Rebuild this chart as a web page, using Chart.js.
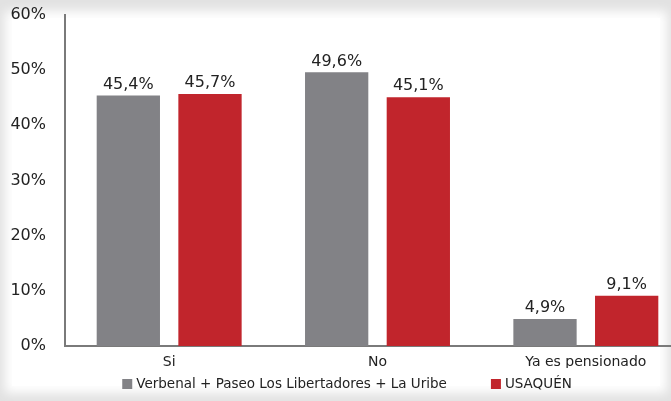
<!DOCTYPE html>
<html lang="es">
<head>
    <meta charset="UTF-8">
    <title>Pensión</title>
    <style>
        html, body {
            margin: 0;
            padding: 0;
            width: 671px;
            height: 401px;
            overflow: hidden;
            background: #e2e2e2;
            font-family: "DejaVu Sans", sans-serif;
        }
        .panel {
            position: absolute;
            left: 12px;
            top: 18px;
            width: 648px;
            height: 368px;
            background: #fff;
            box-shadow: 0 0 10px 7px #fff;
        }
        .wrap {
            position: absolute;
            left: 0;
            top: 0;
            width: 690px;
            height: 401px;
        }
    </style>
    <script src="https://cdn.jsdelivr.net/npm/chart.js"></script>
</head>
<body>
    <div class="panel"></div>
    <div class="wrap"><canvas id="pensionChart" width="690" height="401"></canvas></div>

    <script>
        // Data
        const categories = ['Si', 'No', 'Ya es pensionado'];
        const seriesNames = ['Verbenal + Paseo Los Libertadores + La Uribe', 'USAQUÉN'];
        const verbenalValues = [45.4, 49.6, 4.9];
        const usaquenValues = [45.7, 45.1, 9.1];
        const yTicks = [0, 10, 20, 30, 40, 50, 60];

        const GRAY = '#828286';
        const RED = '#c1252c';
        const FONT = '"DejaVu Sans"';

        // draws "45,4%" style labels above each bar
        const valueLabels = {
            id: 'valueLabels',
            afterDatasetsDraw(chart) {
                const ctx = chart.ctx;
                ctx.save();
                ctx.font = '16px ' + FONT;
                ctx.fillStyle = '#222';
                ctx.textAlign = 'center';
                ctx.textBaseline = 'bottom';
                chart.data.datasets.forEach((ds, i) => {
                    chart.getDatasetMeta(i).data.forEach((bar, j) => {
                        const txt = ds.data[j].toFixed(1).replace('.', ',') + '%';
                        ctx.fillText(txt, bar.x, bar.y - 3);
                    });
                });
                ctx.restore();
            }
        };

        // legend row under the axis labels (Chart.js legend padding is also vertical)
        const bottomLegend = {
            id: 'bottomLegend',
            afterDraw(chart) {
                const ctx = chart.ctx;
                const box = 10, gapText = 4, gapItem = 44;
                ctx.save();
                ctx.font = '13.5px ' + FONT;
                ctx.textBaseline = 'middle';
                const items = chart.data.datasets.map(ds => ({
                    text: ds.label, color: ds.backgroundColor, w: ctx.measureText(ds.label).width
                }));
                let total = items.reduce((a, it) => a + box + gapText + it.w, 0) + gapItem * (items.length - 1);
                let x = 347 - total / 2;
                const y = 384;
                items.forEach(it => {
                    ctx.fillStyle = it.color;
                    ctx.fillRect(x, y - box / 2, box, box);
                    x += box + gapText;
                    ctx.fillStyle = '#222';
                    ctx.fillText(it.text, x, y);
                    x += it.w + gapItem;
                });
                ctx.restore();
            }
        };

        const ctx = document.getElementById('pensionChart').getContext('2d');
        const chart = new Chart(ctx, {
            type: 'bar',
            data: {
                labels: categories,
                datasets: [
                    {
                        label: seriesNames[0],
                        data: verbenalValues,
                        backgroundColor: GRAY,
                        categoryPercentage: 0.784,
                        barPercentage: 0.775
                    },
                    {
                        label: seriesNames[1],
                        data: usaquenValues,
                        backgroundColor: RED,
                        categoryPercentage: 0.784,
                        barPercentage: 0.775
                    }
                ]
            },
            options: {
                responsive: false,
                animation: false,
                layout: { padding: { left: 0, top: 15, right: 0, bottom: 33 } },
                scales: {
                    x: {
                        grid: { display: false, drawTicks: false },
                        border: { color: '#7a7a7a', width: 2 },
                        ticks: {
                            color: '#222',
                            font: { family: 'DejaVu Sans', size: 14 },
                            padding: 8
                        },
                        afterFit: s => { s.height = 22; }
                    },
                    y: {
                        min: 0,
                        max: 60,
                        grid: { display: false, drawTicks: false },
                        border: { color: '#7a7a7a', width: 2 },
                        afterBuildTicks: s => { s.ticks = yTicks.map(v => ({ value: v })); },
                        ticks: {
                            color: '#222',
                            font: { family: 'DejaVu Sans', size: 16 },
                            padding: 19,
                            callback: v => v + '%'
                        },
                        afterFit: s => {
                            s.width = 65;
                            s.paddingTop = 0;
                            s.paddingBottom = 0;
                        }
                    }
                },
                plugins: {
                    legend: { display: false },
                    tooltip: { enabled: false }
                }
            },
            plugins: [valueLabels, bottomLegend]
        });
    </script>
</body>
</html>
